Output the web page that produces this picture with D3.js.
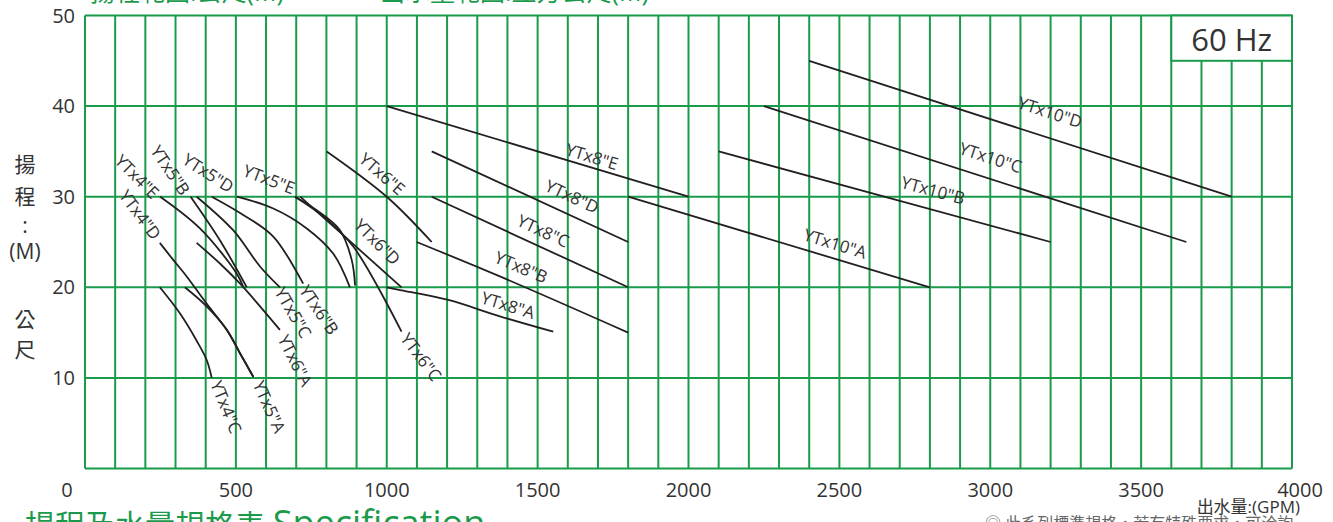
<!DOCTYPE html>
<html lang="zh-Hant">
<head>
<meta charset="UTF-8">
<title>揚程及水量規格表</title>
<style>
    html, body { margin: 0; padding: 0; background: #fff; overflow: hidden; }
    svg { display: block; font-family: "Open Sans", "Noto Sans CJK TC", sans-serif; }
</style>
</head>
<body>
<div id="chart"></div>
<script src="https://cdn.jsdelivr.net/npm/d3@7/dist/d3.min.js"></script>
<script>
    // axis ticks
    const flowTicks = [0, 500, 1000, 1500, 2000, 2500, 3000, 3500, 4000]
    const headTicks = [10, 20, 30, 40, 50]

    // pump curves, [GPM, head m]
    const ytx4C = [[248, 20], [315, 17.1], [370, 14.1], [403, 12], [420, 10]]
    const ytx4D = [[248, 24.9], [293, 23], [337, 21.2], [403, 18.2], [470, 15.3], [514, 12.7], [558, 10.1]]
    const ytx4E = [[249, 30], [381, 26.5], [503, 21.5], [525, 20]]
    const ytx5A = [[331, 20], [403, 17.9], [470, 15.3], [514, 12.7], [558, 10.1]]
    const ytx5B = [[350, 30], [447, 25.2], [536, 20]]
    const ytx5C = [[370, 30], [491, 26.3], [580, 22.3], [646, 20]]
    const ytx5D = [[503, 30], [624, 28.7], [735, 26.5], [823, 23.7], [878, 20]]
    const ytx5E = [[696, 30], [768, 28.5], [845, 26.3], [884, 23], [895, 20.2]]
    const ytx6A = [[370, 24.9], [448, 22.6], [514, 20.4], [580, 17.9], [646, 15.3]]
    const ytx6B = [[420, 30], [514, 28.2], [624, 25.6], [723, 20.4]]
    const ytx6C = [[696, 30], [790, 27.8], [889, 24.5], [1049, 15.1]]
    const ytx6D = [[713, 30], [1049, 20]]
    const ytx6E = [[801, 35], [1000, 30], [1149, 25]]
    const ytx8A = [[999, 20], [1044, 19.7], [1204, 18.6], [1375, 16.8], [1552, 15.1]]
    const ytx8B = [[1099, 25], [1375, 21.2], [1800, 15]]
    const ytx8C = [[1149, 30], [1800, 20]]
    const ytx8D = [[1149, 35], [1800, 25]]
    const ytx8E = [[1000, 40], [2000, 30]]
    const ytx10A = [[1800, 30], [2800, 20]]
    const ytx10B = [[2100, 35], [3200, 25]]
    const ytx10C = [[2250, 40], [3650, 25]]
    const ytx10D = [[2400, 45], [3800, 30]]

    const pumpCurves = [ytx4C, ytx4D, ytx4E, ytx5A, ytx5B, ytx5C, ytx5D, ytx5E,
        ytx6A, ytx6B, ytx6C, ytx6D, ytx6E, ytx8A, ytx8B, ytx8C, ytx8D, ytx8E,
        ytx10A, ytx10B, ytx10C, ytx10D]

    // where each model name sits: [text, GPM, head, angle]
    const tagSpots = [
        ['YTx4"E', 172, 32.2, 45],
        ['YTx4"D', 182, 28.0, 53],
        ['YTx5"B', 282, 32.9, 56],
        ['YTx5"D', 408, 32.6, 33],
        ['YTx5"E', 610, 31.9, 21],
        ['YTx6"E', 984, 32.5, 41],
        ['YTx6"D', 968, 25.0, 45],
        ['YTx4"C', 467, 6.8, 68],
        ['YTx5"A', 610, 6.8, 66],
        ['YTx5"C', 689, 17.2, 60],
        ['YTx6"B', 775, 17.5, 56],
        ['YTx6"A', 696, 11.9, 63],
        ['YTx6"C', 1113, 12.3, 53],
        ['YTx8"E', 1680, 34.4, 17],
        ['YTx8"D', 1614, 30.0, 25],
        ['YTx8"C', 1518, 26.2, 25],
        ['YTx8"B', 1445, 22.2, 23],
        ['YTx8"A', 1402, 18.0, 17],
        ['YTx10"D', 3198, 39.3, 18],
        ['YTx10"C', 3001, 34.3, 18],
        ['YTx10"B', 2810, 30.7, 15],
        ['YTx10"A', 2486, 24.8, 17]
    ]

    const width = 1333
    const height = 522
    const green = "#1a9b4b"
    const ink = "#333"

    const x = d3.scaleLinear().domain([0, 4000]).range([85, 1292])
    const y = d3.scaleLinear().domain([0, 50]).range([468.5, 15.5])

    const svg = d3.select("#chart").append("svg")
        .attr("width", width)
        .attr("height", height)

    // grid: every 100 GPM, every 10 m
    const grid = svg.append("g")
    grid.selectAll(".vline")
        .data(d3.range(0, 4001, 100))
        .enter().append("line")
        .attr("x1", (d) => x(d)).attr("x2", (d) => x(d))
        .attr("y1", y(0)).attr("y2", y(50))
        .attr("stroke", green)
        .attr("stroke-width", 2)

    grid.selectAll(".hline")
        .data([0].concat(headTicks))
        .enter().append("line")
        .attr("x1", x(0)).attr("x2", x(4000))
        .attr("y1", (d) => y(d)).attr("y2", (d) => y(d))
        .attr("stroke", green)
        .attr("stroke-width", 2)

    // 60 Hz box
    svg.append("rect")
        .attr("x", x(3600)).attr("y", y(50))
        .attr("width", x(4000) - x(3600))
        .attr("height", y(45) - y(50))
        .attr("fill", "#fff")
        .attr("stroke", green)
        .attr("stroke-width", 2)

    svg.append("text")
        .attr("x", (x(3600) + x(4000)) / 2)
        .attr("y", y(45) - 10)
        .attr("text-anchor", "middle")
        .style("font-size", "31px")
        .attr("fill", ink)
        .text("60 Hz")

    // tick labels
    svg.selectAll(".ylab")
        .data(headTicks)
        .enter().append("text")
        .attr("x", 75)
        .attr("y", (d) => y(d))
        .attr("dy", "0.35em")
        .attr("text-anchor", "end")
        .style("font-size", "20px")
        .attr("fill", ink)
        .text((d) => d)

    svg.selectAll(".xlab")
        .data(flowTicks)
        .enter().append("text")
        .attr("x", (d) => x(d) + (d === 0 ? -18 : d === 4000 ? 8 : 0))
        .attr("y", 497)
        .attr("text-anchor", "middle")
        .style("font-size", "20px")
        .attr("fill", ink)
        .text((d) => d)

    svg.append("text")
        .attr("x", 1300).attr("y", 513)
        .attr("text-anchor", "end")
        .style("font-size", "17px")
        .attr("fill", ink)
        .text("出水量:(GPM)")

    // vertical y title
    const yTitle = [["揚", 165], ["程", 197], [":", 226], ["(M)", 252], ["公", 320], ["尺", 350]]
    svg.selectAll(".ytitle")
        .data(yTitle)
        .enter().append("text")
        .attr("x", 25)
        .attr("y", (d) => d[1])
        .attr("dy", "0.35em")
        .attr("text-anchor", "middle")
        .style("font-size", "21px")
        .attr("fill", ink)
        .text((d) => d[0])

    // curves
    const line = d3.line()
        .x((d) => x(d[0]))
        .y((d) => y(d[1]))
        .curve(d3.curveCatmullRom.alpha(0.5))

    svg.append("g").selectAll("path")
        .data(pumpCurves)
        .enter().append("path")
        .attr("d", line)
        .attr("fill", "none")
        .attr("stroke", "#231f20")
        .attr("stroke-width", 1.8)

    svg.append("g").selectAll("text")
        .data(tagSpots)
        .enter().append("text")
        .attr("transform", (d) => `translate(${x(d[1])},${y(d[2])}) rotate(${d[3]})`)
        .attr("text-anchor", "middle")
        .attr("dy", "0.35em")
        .style("font-size", "17px")
        .attr("fill", ink)
        .text((d) => d[0])

    // headings, cut by the page edge
    svg.append("text")
        .attr("x", 90).attr("y", 1)
        .style("font-size", "25px")
        .attr("fill", green)
        .text("揚程範圍:公尺(M)")

    svg.append("text")
        .attr("x", 380).attr("y", 1)
        .style("font-size", "25px")
        .attr("fill", green)
        .text("出水量範圍:立方公尺(M)")

    const foot = svg.append("text")
        .attr("x", 25).attr("y", 536)
        .attr("fill", green)
    foot.append("tspan")
        .style("font-size", "30px")
        .text("揚程及水量規格表  ")
    foot.append("tspan")
        .style("font-size", "36px")
        .text("Specification")

    svg.append("text")
        .attr("x", 985).attr("y", 529)
        .style("font-size", "16px")
        .attr("fill", "#666")
        .text("◎ 此系列標準規格，若有特殊要求，可洽詢")
</script>
</body>
</html>
